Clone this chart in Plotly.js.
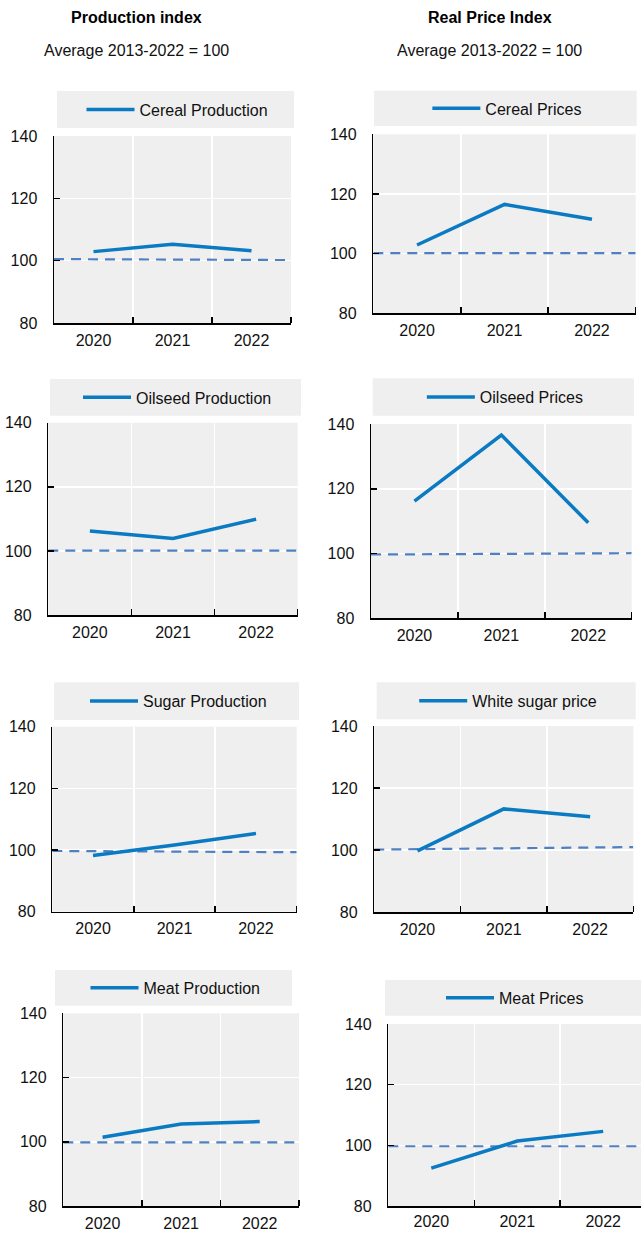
<!DOCTYPE html>
<html>
<head>
<meta charset="utf-8">
<script src="https://cdn.plot.ly/plotly-3.0.1.min.js"></script>
<style>html,body{margin:0;padding:0;background:#fff;}#chart{width:641px;height:1233px;}</style>
</head>
<body>
<div id="chart"></div>
<script>
// ---- data ----
const years = ['2020', '2021', '2022'];
const yTicks = [80, 100, 120, 140];

const seriesNames = [
  'Cereal Production', 'Cereal Prices',
  'Oilseed Production', 'Oilseed Prices',
  'Sugar Production', 'White sugar price',
  'Meat Production', 'Meat Prices'
];
const cerealProduction = [102.9, 105.3, 103.2];
const cerealPrices = [102.9, 116.5, 111.5];
const oilseedProduction = [106.2, 103.9, 109.9];
const oilseedPrices = [116.2, 136.6, 109.5];
const sugarProduction = [98.2, 101.6, 105.4];
const whiteSugarPrice = [99.8, 113.3, 110.8];
const meatProduction = [101.4, 105.5, 106.3];
const meatPrices = [92.5, 101.4, 104.6];
const seriesValues = [cerealProduction, cerealPrices, oilseedProduction, oilseedPrices,
                      sugarProduction, whiteSugarPrice, meatProduction, meatPrices];

// reference (average = 100) dashed line: value at left edge, value at right edge
const refStart = [100.5, 100.2, 100.1, 99.7, 99.7, 100.2, 99.8, 99.7];
const refEnd   = [100.2, 100.2, 100.1, 100.1, 99.3, 101.0, 99.8, 99.7];

const colTitles = ['Production index', 'Real Price Index'];
const colSubtitle = 'Average 2013-2022 = 100';

// ---- layout geometry (pixels) ----
const W = 641, H = 1233;
const plotBoxes = [ // [x0, x1, y0(top), y1(bottom)]
  [54, 291, 136, 323], [373.3, 635.7, 134.3, 313.3],
  [48.3, 297.7, 422.7, 615], [371, 631.7, 424, 618.3],
  [52.3, 296.7, 726.7, 911.7], [374.3, 633.3, 726, 912.3],
  [63.3, 299, 1013.3, 1206], [388.3, 641, 1024, 1206]
];
const xStandoff = [2, 2, 2, 2, 2, 2, 2, 0];
const legendBoxes = [
  [57, 294, 91, 128], [374, 636.7, 90.7, 126],
  [50, 301, 379, 415.7], [372.7, 634, 378.3, 415.7],
  [54, 299, 682.3, 720], [376.7, 635.7, 682.3, 719.3],
  [55, 292, 970, 1005.7], [385, 641, 980, 1015.7]
];
const xMaxRange = [2.5, 2.5, 2.5, 2.5, 2.5, 2.5, 2.5, 2.44];

const FONT = 'Arial, "Liberation Sans", sans-serif';
const LINE = '#0a7bc2';
const DASH = '#4f80c2';
const BG = '#efefef';

const px = v => v / W;
const py = v => 1 - v / H;
const xIdx = years.map((_, i) => i);

const data = [];
const layout = {
  width: W, height: H,
  margin: {l: 0, r: 0, t: 0, b: 0},
  paper_bgcolor: '#fff',
  plot_bgcolor: BG,
  font: {family: FONT, size: 16, color: '#111'},
  showlegend: true,
  shapes: [],
  annotations: []
};

for (let i = 0; i < 8; i++) {
  const n = i + 1;
  const xa = n === 1 ? 'x' : 'x' + n;
  const ya = n === 1 ? 'y' : 'y' + n;
  const lg = n === 1 ? 'legend' : 'legend' + n;
  const pb = plotBoxes[i];
  const lb = legendBoxes[i];

  // reference dashed line
  data.push({
    type: 'scatter', mode: 'lines',
    x: [-0.5, years.length - 0.5], y: [refStart[i], refEnd[i]],
    xaxis: xa, yaxis: ya, showlegend: false, hoverinfo: 'skip',
    line: {color: DASH, width: 2.2, dash: '10px,7px'}
  });
  // main series
  data.push({
    type: 'scatter', mode: 'lines',
    name: seriesNames[i],
    x: xIdx, y: seriesValues[i],
    xaxis: xa, yaxis: ya, legend: lg,
    line: {color: LINE, width: 3.5}
  });

  layout[(n === 1 ? 'xaxis' : 'xaxis' + n)] = {
    domain: [px(pb[0]), px(pb[1])],
    anchor: ya,
    range: [-0.5, xMaxRange[i]],
    tickmode: 'array', tickvals: xIdx, ticktext: years,
    ticks: '', showgrid: false, zeroline: false,
    showline: true, linecolor: '#000', linewidth: 1.5,
    tickfont: {family: FONT, size: 16, color: '#111'},
    ticklabelstandoff: xStandoff[i],
    minor: {
      tickmode: 'array', tickvals: xIdx.map(v => v + 0.5),
      ticks: 'inside', ticklen: 6, tickwidth: 1.5, tickcolor: '#000',
      showgrid: true, gridcolor: '#ffffff', gridwidth: 1.5
    },
    fixedrange: true
  };
  layout[(n === 1 ? 'yaxis' : 'yaxis' + n)] = {
    domain: [py(pb[3]), py(pb[2])],
    anchor: xa,
    range: [yTicks[0], yTicks[yTicks.length - 1]],
    tickmode: 'array', tickvals: yTicks,
    ticks: 'inside', ticklen: 6, tickwidth: 1.5, tickcolor: '#000',
    showgrid: true, gridcolor: '#ffffff', gridwidth: 1.5,
    zeroline: false, showline: true, linecolor: '#000', linewidth: 1.5,
    tickfont: {family: FONT, size: 16, color: '#111'},
    ticklabelstandoff: 12,
    fixedrange: true
  };

  // legend background band
  layout.shapes.push({
    type: 'rect', xref: 'paper', yref: 'paper',
    x0: px(lb[0]), x1: px(lb[1]), y0: py(lb[3]), y1: py(lb[2]),
    fillcolor: BG, line: {width: 0}, layer: 'below'
  });
  layout[lg] = {
    x: px((lb[0] + lb[1]) / 2 + 2), y: py((lb[2] + lb[3]) / 2),
    xanchor: 'center', yanchor: 'middle',
    xref: 'paper', yref: 'paper',
    bgcolor: 'rgba(0,0,0,0)', borderwidth: 0,
    font: {family: FONT, size: 16, color: '#111'},
    itemwidth: 48,
    orientation: 'h'
  };
}

// column titles
const colCenters = [136, 489.7];
colTitles.forEach((t, c) => {
  layout.annotations.push({
    text: '<b>' + t + '</b>', xref: 'paper', yref: 'paper',
    x: px(colCenters[c]), y: py(18), xanchor: 'center', yanchor: 'middle',
    showarrow: false, font: {family: FONT, size: 16, color: '#000'}
  });
  layout.annotations.push({
    text: colSubtitle, xref: 'paper', yref: 'paper',
    x: px(colCenters[c]), y: py(50), xanchor: 'center', yanchor: 'middle',
    showarrow: false, font: {family: FONT, size: 16, color: '#111'}
  });
});

Plotly.newPlot('chart', data, layout, {displayModeBar: false, staticPlot: true});
</script>
</body>
</html>
